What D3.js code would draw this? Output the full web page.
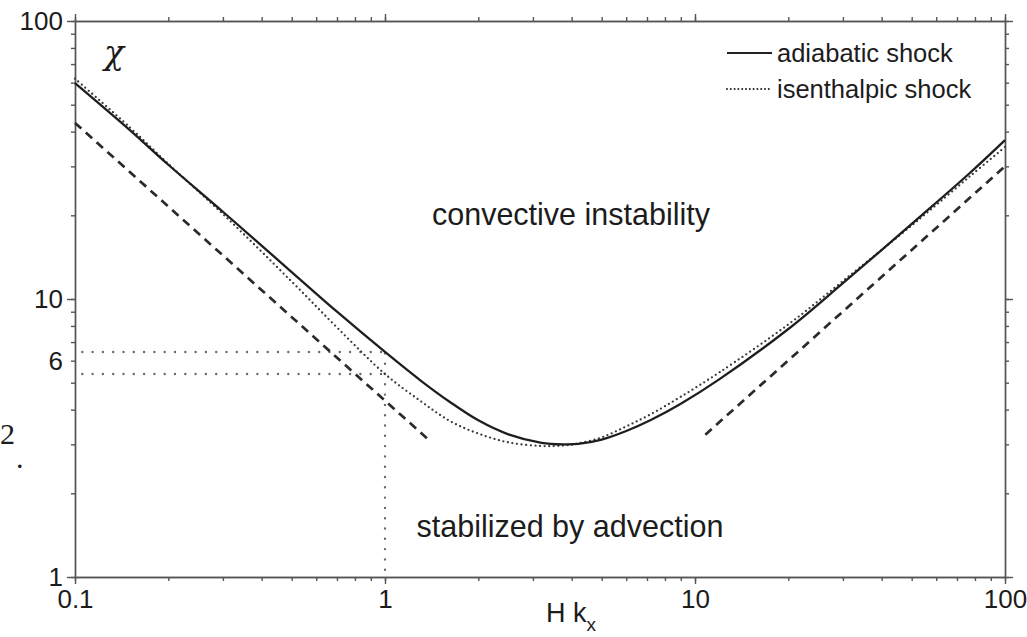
<!DOCTYPE html>
<html>
<head>
<meta charset="utf-8">
<script src="https://cdn.jsdelivr.net/npm/d3@7"></script>
<style>
  body { margin: 0; background: #fff; }
  svg text { font-family: 'Liberation Sans', Arial, sans-serif; fill: #1c1c1c; }
  .axis path, .axis line { stroke: #555; stroke-width: 1.4; }
</style>
</head>
<body>
<div id="chart"></div>
<script>
'use strict';

// Values (H k_x on x, chi on y, both log)
var hk          = [0.1, 0.15, 0.2, 0.3, 0.5, 0.7, 1, 1.3, 1.62, 2.0, 2.5, 3.2, 3.75, 4.2, 5, 6, 7.2, 9, 12, 20, 30, 53, 77, 100];
var adiabatic   = [59.8, 40.6, 30.4, 20.6, 12.5, 9.0, 6.45, 5.1, 4.26, 3.66, 3.26, 3.04, 3.0, 3.01, 3.12, 3.35, 3.67, 4.2, 5.15, 7.8, 11.4, 19.7, 28.4, 37.3];
var isenthalpic = [62.0, 41.5, 30.6, 20.2, 11.55, 7.9, 5.37, 4.3, 3.64, 3.28, 3.05, 2.96, 2.97, 3.02, 3.18, 3.48, 3.85, 4.45, 5.45, 8.1, 11.6, 19.4, 27.6, 35.2];

// dashed asymptotes
var lowAsymX  = [0.1, 1.39];
var lowAsymY  = [43, 3.1];
var highAsymX = [10.8, 100];
var highAsymY = [3.25, 30];

// dotted read-off lines at H k_x = 1
var markX   = 1;
var markChi = [6.45, 5.37];

var xLabels = [0.1, 1, 10, 100];
var yMajor  = [1, 10, 100];
var yLabels = [1, 6, 10, 100];
var seriesNames = ['adiabatic shock', 'isenthalpic shock'];

var ShockChart = function(container) {
  this.container = container;

  // Chart dimensions
  this.width = 1027;
  this.height = 637;
  this.margin = {top: 21, right: 22, bottom: 60, left: 75};

  // Scales
  this.xScale = d3.scaleLog()
    .domain([0.1, 100])
    .range([this.margin.left, this.width - this.margin.right]);
  this.yScale = d3.scaleLog()
    .domain([1, 100])
    .range([this.height - this.margin.bottom, this.margin.top]);

  this.svg = d3.select(this.container)
    .append('svg')
    .attr('width', this.width)
    .attr('height', this.height);
};

ShockChart.prototype.render = function() {
  this._renderAxis();
  this._renderCurves();
  this._renderLabels();
  this._renderLegend();
};

ShockChart.prototype._line = function(curve) {
  return d3.line()
    .x(function(d) { return this.xScale(d[0]); }.bind(this))
    .y(function(d) { return this.yScale(d[1]); }.bind(this))
    .curve(curve || d3.curveLinear);
};

ShockChart.prototype._axis = function(gen, scale, values, size, transform, labels) {
  var axis = gen(scale)
    .tickValues(values)
    .tickSize(size)
    .tickSizeOuter(0)
    .tickFormat(labels ? function(d) { return d3.format('')(d); } : '');
  var g = this.svg.append('g')
    .attr('class', 'axis')
    .attr('transform', transform)
    .call(axis);
  g.attr('font-size', 26).attr('font-family', null);
  return g;
};

ShockChart.prototype._renderAxis = function() {
  var x = this.xScale, y = this.yScale;
  var bottom = 'translate(0,' + y(1) + ')';
  var top = 'translate(0,' + y(100) + ')';
  var left = 'translate(' + x(0.1) + ',0)';
  var right = 'translate(' + x(100) + ',0)';

  // minor and major ticks on all four sides, pointing out
  [[d3.axisBottom, bottom], [d3.axisTop, top]].forEach(function(a) {
    this._axis(a[0], x, x.ticks(), 4, a[1], false);
    this._axis(a[0], x, xLabels, 7, a[1], false);
  }.bind(this));
  [[d3.axisLeft, left], [d3.axisRight, right]].forEach(function(a) {
    this._axis(a[0], y, y.ticks(), 4, a[1], false);
    this._axis(a[0], y, yMajor, 8, a[1], false);
  }.bind(this));

  // tick labels
  var xl = this._axis(d3.axisBottom, x, xLabels, 0, bottom, true);
  xl.select('.domain').remove();
  xl.selectAll('.tick text').attr('y', 13);

  var yl = this._axis(d3.axisLeft, y, yLabels, 0, left, true);
  yl.select('.domain').remove();
  yl.selectAll('.tick text').attr('x', -12);

  this.svg.selectAll('.axis text').style('fill', '#1c1c1c');
};

ShockChart.prototype._renderCurves = function() {
  var g = this.svg.append('g').attr('class', 'curves').attr('fill', 'none');
  var straight = this._line();
  var smooth = this._line(d3.curveCatmullRom.alpha(0.5));

  // read-off lines
  var marks = markChi.map(function(c) { return [[0.1, c], [markX, c]]; });
  marks.push([[markX, 1], [markX, markChi[0]]]);
  g.selectAll('.mark')
    .data(marks)
    .enter()
    .append('path')
    .attr('class', 'mark')
    .attr('d', straight)
    .attr('stroke', '#6a6a6a')
    .attr('stroke-width', 2.4)
    .attr('stroke-linecap', 'round')
    .attr('stroke-dasharray', '0 10.3')
    .attr('stroke-dashoffset', 3);

  // asymptotes
  var asym = [d3.zip(lowAsymX, lowAsymY), d3.zip(highAsymX, highAsymY)];
  g.selectAll('.asym')
    .data(asym)
    .enter()
    .append('path')
    .attr('class', 'asym')
    .attr('d', straight)
    .attr('stroke', '#2a2a2a')
    .attr('stroke-width', 2.7)
    .attr('stroke-dasharray', '8.5 6');

  g.append('path')
    .datum(d3.zip(hk, isenthalpic))
    .attr('d', smooth)
    .attr('stroke', '#3a3a3a')
    .attr('stroke-width', 2.3)
    .attr('stroke-linecap', 'round')
    .attr('stroke-dasharray', '0 4.6');

  g.append('path')
    .datum(d3.zip(hk, adiabatic))
    .attr('d', smooth)
    .attr('stroke', '#1e1e1e')
    .attr('stroke-width', 2.3);
};

ShockChart.prototype._renderLabels = function() {
  var x = this.xScale, y = this.yScale;

  this.svg.append('text')
    .attr('x', 104)
    .attr('y', 64)
    .attr('font-size', 33)
    .style('font-family', "'DejaVu Serif', serif")
    .style('font-style', 'italic')
    .text('χ');

  this.svg.append('text')
    .attr('x', x(3.98))
    .attr('y', y(18.5))
    .attr('text-anchor', 'middle')
    .attr('font-size', 30.5)
    .text('convective instability');

  this.svg.append('text')
    .attr('x', x(3.95))
    .attr('y', y(1.39))
    .attr('text-anchor', 'middle')
    .attr('font-size', 30.5)
    .text('stabilized by advection');

  var t = this.svg.append('text')
    .attr('x', 546)
    .attr('y', 622)
    .attr('font-size', 27);
  t.append('tspan').text('H k');
  t.append('tspan').attr('dy', 9).attr('font-size', 19).text('x');

  // fragment of text from the neighbouring page
  this.svg.append('text')
    .attr('x', 0)
    .attr('y', 444)
    .attr('font-size', 30)
    .style('font-family', "'Liberation Serif', serif")
    .text('2');
  this.svg.append('text')
    .attr('x', 16)
    .attr('y', 468)
    .attr('font-size', 30)
    .style('font-family', "'Liberation Serif', serif")
    .text('.');
};

ShockChart.prototype._renderLegend = function() {
  var styles = [{dash: null, width: 2.2}, {dash: '0 3.8', width: 2}];
  var legend = this.svg.append('g')
    .attr('class', 'legend')
    .attr('transform', 'translate(727,53)');

  var items = legend.selectAll('g')
    .data(seriesNames)
    .enter()
    .append('g')
    .attr('transform', function(d, i) { return 'translate(0,' + (i * 36) + ')'; });

  items.append('line')
    .attr('x1', 0).attr('x2', 45)
    .attr('stroke', '#222')
    .attr('stroke-linecap', function(d, i) { return i ? 'round' : 'butt'; })
    .attr('stroke-width', function(d, i) { return styles[i].width; })
    .attr('stroke-dasharray', function(d, i) { return styles[i].dash; });

  items.append('text')
    .attr('x', 50)
    .attr('y', 9)
    .attr('font-size', 25.5)
    .text(function(d) { return d; });
};

var chart = new ShockChart('#chart');
chart.render();
</script>
</body>
</html>
